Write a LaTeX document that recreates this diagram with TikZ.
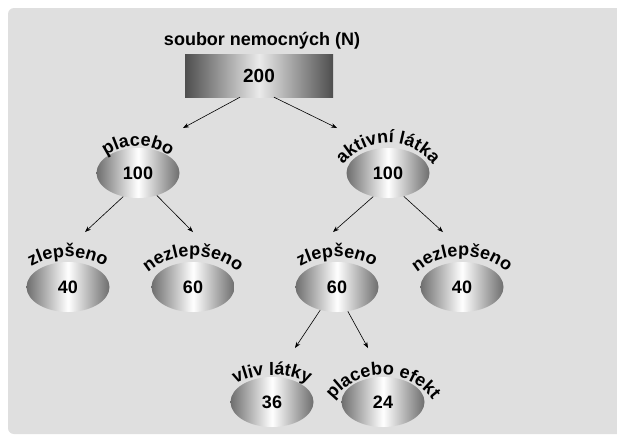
\documentclass[tikz,border=0pt]{standalone}
\usepackage{fontspec}
\setmainfont{Liberation Sans}
\usetikzlibrary{shapes.geometric,arrows.meta,decorations.text}
\definecolor{bgc}{HTML}{DFDFDF}
\definecolor{ovedge}{HTML}{6E6E6E}
\definecolor{rectedge}{HTML}{4E4E4E}
\definecolor{rectmid}{HTML}{EAEAEA}
\newcommand\lblfont{\bfseries\fontsize{18}{20}\selectfont}
\tikzset{
  oval/.style={ellipse, minimum width=83pt, minimum height=50pt, inner sep=0pt,
    left color=ovedge, right color=ovedge, middle color=white,
    font=\bfseries\fontsize{18}{20}\selectfont},
  topbox/.style={rectangle, minimum width=148pt, minimum height=43pt, inner sep=0pt,
    left color=rectedge, right color=rectedge, middle color=rectmid,
    font=\bfseries\fontsize{19}{21}\selectfont},
  ttl/.style={font=\bfseries\fontsize{18}{20}\selectfont, inner sep=0pt},
  conn/.style={draw, line width=0.6pt, -{Stealth[length=6pt,width=4.5pt]}},
  arclabel/.style={decorate, decoration={text along path, text align=center,
    text format delimiters={|}{|}, text={|\lblfont|#1}}}
}
\begin{document}
\begin{tikzpicture}[x=1pt,y=-1pt]
\useasboundingbox (0,0) rectangle (617,440);
\fill[bgc, rounded corners=6pt] (8,8) rectangle (640,434);

% title and root
\node[ttl] (title) at (262,41) {soubor nemocných (N)};
\node[topbox] (root) at (259,75.5) {200};

% level 1
\node[oval] (pl) at (138,173) {100};
\node[oval] (ak) at (388,173) {100};

% level 2
\node[oval] (plz) at (68,287) {40};
\node[oval] (pln) at (193,287) {60};
\node[oval] (akz) at (337,287) {60};
\node[oval] (akn) at (462,287) {40};

% level 3
\node[oval] (vl) at (272,402) {36};
\node[oval] (pe) at (383,402) {24};

% curved labels
\path[arclabel={placebo}] (83,201) arc[start angle=180, end angle=360, radius=55];
\path[arclabel={aktivní látka}] (330,201) arc[start angle=180, end angle=360, radius=58];
\path[arclabel={zlepšeno}] (-7,332) arc[start angle=180, end angle=360, radius=75];
\path[arclabel={nezlepšeno}] (123,326) arc[start angle=180, end angle=360, radius=70];
\path[arclabel={zlepšeno}] (262,332) arc[start angle=180, end angle=360, radius=75];
\path[arclabel={nezlepšeno}] (392,326) arc[start angle=180, end angle=360, radius=70];
\path[arclabel={vliv látky}] (187,460) arc[start angle=180, end angle=360, radius=85];
\path[arclabel={placebo efekt}] (321,437) arc[start angle=180, end angle=360, radius=62];

% arrow tip coordinates
\coordinate (t1) at (183,128);
\coordinate (t2) at (337,128);
\coordinate (t3) at (85,232);
\coordinate (t4) at (193,232);
\coordinate (t5) at (333,232);
\coordinate (t6) at (443,232);
\coordinate (t7) at (295,348);
\coordinate (t8) at (368,348);

% connectors
\path[conn] ([xshift=-19pt]root.south) -- (t1);
\path[conn] ([xshift=15pt]root.south) -- (t2);
\path[conn] (pl.-122) -- (t3);
\path[conn] (pl.-50) -- (t4);
\path[conn] (ak.-122) -- (t5);
\path[conn] (ak.-56) -- (t6);
\path[conn] (akz.-126) -- (t7);
\path[conn] (akz.-66) -- (t8);
\end{tikzpicture}
\end{document}
